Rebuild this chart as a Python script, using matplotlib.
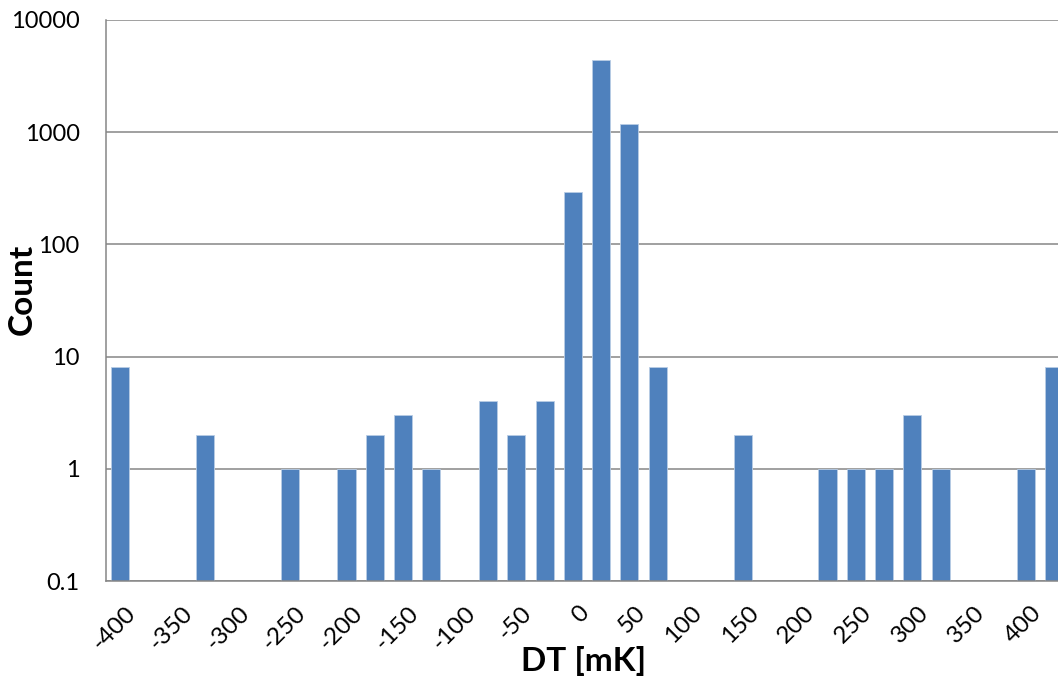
import numpy as np
import matplotlib
matplotlib.use('Agg')
import matplotlib.pyplot as plt
import matplotlib.transforms as mtransforms
from matplotlib.ticker import FixedLocator, NullLocator

plt.rcParams['font.family'] = ['Lato', 'DejaVu Sans']

# histogram bins, 25 mK wide
dt_bins = [-400, -375, -350, -325, -300, -275, -250, -225, -200, -175,
           -150, -125, -100, -75, -50, -25, 0, 25, 50, 75,
           100, 125, 150, 175, 200, 225, 250, 275, 300, 325,
           350, 375, 400, 425]
counts = [8, 0, 0, 2, 0, 0, 1, 0, 1, 2,
          3, 1, 0, 4, 2, 4, 296, 4400, 1190, 8,
          0, 0, 2, 0, 0, 1, 1, 1, 3, 1,
          0, 0, 1, 8]
y_ticks = [0.1, 1, 10, 100, 1000, 10000]
y_ticklabels = ['0.1', '1', '10', '100', '1000', '10000']

W, H = 1058, 681
fig = plt.figure(figsize=(W / 100, H / 100), dpi=100)
# plot area runs a bit past the right edge, like the cropped original
ax = fig.add_axes([106 / W, (H - 581) / H, 962 / W, 561 / H])

idx = np.arange(len(dt_bins))
cnt = np.array(counts, dtype=float)
has = cnt > 0
ax.bar(idx[has], cnt[has], width=0.64,
       color='#4F81BD', edgecolor='#B9CDE5', linewidth=0.6, zorder=3)

ax.set_yscale('log')
ax.set_ylim(0.1, 10000)
ax.set_xlim(-0.5, len(dt_bins) - 0.5)

ax.yaxis.set_major_locator(FixedLocator(y_ticks))
ax.set_yticklabels(y_ticklabels)
ax.yaxis.set_minor_locator(NullLocator())
ax.tick_params(axis='y', length=0, pad=19, labelsize=17)

ax.set_xticks(idx[::2])
ax.set_xticklabels([str(v) for v in dt_bins[::2]], rotation=45,
                   ha='right', rotation_mode='anchor')
ax.tick_params(axis='x', length=0, pad=14, labelsize=17.5)
shift = mtransforms.ScaledTranslation(5 / 100, -2 / 100, fig.dpi_scale_trans)
for lbl in ax.get_xticklabels():
    lbl.set_transform(lbl.get_transform() + shift)

ax.grid(axis='y', color='#868686', linewidth=1.1, zorder=0)
for s in ['top', 'right']:
    ax.spines[s].set_visible(False)
for s in ['left', 'bottom']:
    ax.spines[s].set_color('#868686')
    ax.spines[s].set_linewidth(1.1)
    ax.spines[s].set_zorder(4)

ax.set_xlabel('DT [mK]', fontsize=24, fontweight='bold')
ax.set_ylabel('Count', fontsize=24, fontweight='bold')
ax.xaxis.set_label_coords((584 - 106) / 962, (581 - 646) / 561)
ax.yaxis.set_label_coords((37 - 106) / 962, 0.52)

fig.savefig('out.png', dpi=100)
